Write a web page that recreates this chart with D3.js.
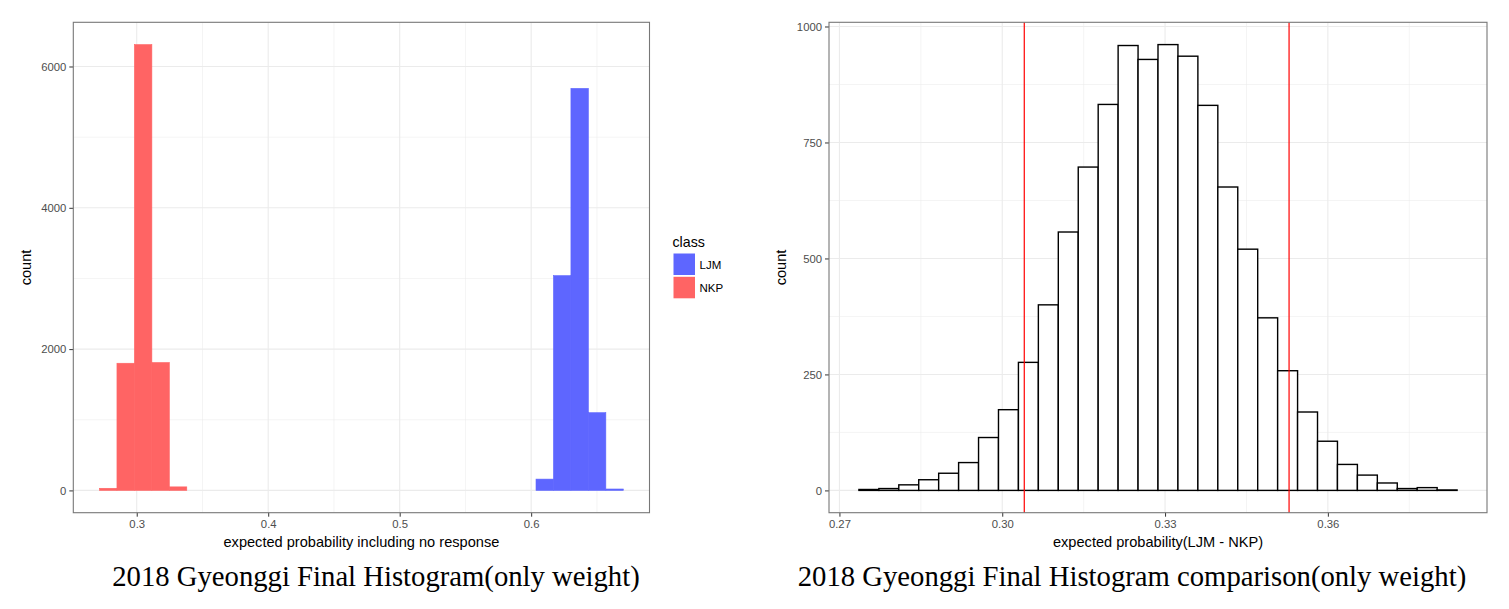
<!DOCTYPE html>
<html>
<head>
<meta charset="utf-8">
<script src="https://cdn.jsdelivr.net/npm/d3@7"></script>
<style>
  html, body { margin: 0; padding: 0; background: #fff; }
  svg { display: block; }
  .tick text { font-family: "Liberation Sans", Arial, sans-serif; }
</style>
</head>
<body>
<svg id="chart" width="1509" height="609"></svg>
<script>
// ---------------- DATA ----------------
// Left chart: histogram of expected probability including no response, by class
const classes = ["LJM", "NKP"];
const classColors = ["#5e66ff", "#ff6464"];
const leftBinWidth = 0.01328;
const ljmBinStarts = [0.60368, 0.61696, 0.63024, 0.64352, 0.65680];
const ljmCounts    = [160, 3040, 5690, 1100, 20];
const nkpBinStarts = [0.27168, 0.28496, 0.29824, 0.31152, 0.32480];
const nkpCounts    = [30, 1800, 6310, 1810, 50];
const leftXTicks = [0.3, 0.4, 0.5, 0.6];
const leftXMinor = [0.35, 0.45, 0.55, 0.65];
const leftYTicks = [0, 2000, 4000, 6000];
const leftYMinor = [1000, 3000, 5000];

// Right chart: histogram of LJM - NKP difference
const diffBinStart = 0.27359;
const diffBinWidth = 0.003674;
const diffCounts = [2, 4, 12, 23, 37, 60, 114, 174, 276, 400, 557, 697, 832, 959, 929,
                    961, 936, 830, 654, 520, 372, 258, 169, 106, 56, 33, 16, 4, 6, 1];
const diffQuantiles = [0.30406, 0.35285];
const rightXTicks = [0.27, 0.30, 0.33, 0.36];
const rightXMinor = [0.285, 0.315, 0.345, 0.375];
const rightYTicks = [0, 250, 500, 750, 1000];
const rightYMinor = [125, 375, 625, 875];

const leftTitle = "2018 Gyeonggi Final Histogram(only weight)";
const rightTitle = "2018 Gyeonggi Final Histogram comparison(only weight)";
const leftXLabel = "expected probability including no response";
const rightXLabel = "expected probability(LJM - NKP)";
const yLabel = "count";
const legendTitle = "class";

// ---------------- DRAWING ----------------
const svg = d3.select("#chart");
const SANS = "'Liberation Sans', Arial, sans-serif";
const SERIF = "'Liberation Serif', 'Times New Roman', serif";

function expand(lo, hi) { const r = hi - lo; return [lo - 0.05 * r, hi + 0.05 * r]; }

function panel(opts) {
  const g = svg.append("g");
  const { x0, x1, y0, y1, x, y } = opts;
  g.append("rect").attr("x", x0).attr("y", y0).attr("width", x1 - x0).attr("height", y1 - y0).attr("fill", "#fff");
  opts.xMinor.forEach(v => g.append("line").attr("x1", x(v)).attr("x2", x(v)).attr("y1", y0).attr("y2", y1)
    .attr("stroke", "#ebebeb").attr("stroke-width", 0.55));
  opts.yMinor.forEach(v => g.append("line").attr("y1", y(v)).attr("y2", y(v)).attr("x1", x0).attr("x2", x1)
    .attr("stroke", "#ebebeb").attr("stroke-width", 0.55));
  opts.xTicks.forEach(v => g.append("line").attr("x1", x(v)).attr("x2", x(v)).attr("y1", y0).attr("y2", y1)
    .attr("stroke", "#ebebeb").attr("stroke-width", 1.1));
  opts.yTicks.forEach(v => g.append("line").attr("y1", y(v)).attr("y2", y(v)).attr("x1", x0).attr("x2", x1)
    .attr("stroke", "#ebebeb").attr("stroke-width", 1.1));
  return g;
}

function axes(opts) {
  const { x0, x1, y0, y1, x, y } = opts;
  const xa = svg.append("g").attr("transform", `translate(0,${y1})`)
    .call(d3.axisBottom(x).tickValues(opts.xTicks).tickFormat(opts.xFormat).tickSize(4).tickPadding(3));
  const ya = svg.append("g").attr("transform", `translate(${x0},0)`)
    .call(d3.axisLeft(y).tickValues(opts.yTicks).tickFormat(d3.format("d")).tickSize(4).tickPadding(3));
  [xa, ya].forEach(a => {
    a.select(".domain").remove();
    a.selectAll(".tick line").attr("stroke", "#333").attr("stroke-width", 1);
    a.selectAll(".tick text").attr("fill", "#4d4d4d").attr("font-size", 11.3).attr("font-family", SANS);
  });
  svg.append("rect").attr("x", x0).attr("y", y0).attr("width", x1 - x0).attr("height", y1 - y0)
    .attr("fill", "none").attr("stroke", "#777").attr("stroke-width", 1.1);
  svg.append("text").attr("x", (x0 + x1) / 2).attr("y", y1 + 34).attr("text-anchor", "middle")
    .attr("font-family", SANS).attr("font-size", 14.6).attr("fill", "#000").text(opts.xLabel);
  svg.append("text").attr("transform", `translate(${opts.yLabelX},${(y0 + y1) / 2}) rotate(-90)`)
    .attr("text-anchor", "middle").attr("font-family", SANS).attr("font-size", 14.6).attr("fill", "#000").text(yLabel);
  svg.append("text").attr("x", opts.titleX).attr("y", 586).attr("text-anchor", "middle")
    .attr("font-family", SERIF).attr("font-size", 28.7).attr("fill", "#000").text(opts.title);
}

// ---- Left chart ----
(function () {
  const x0 = 73.3, x1 = 649.5, y0 = 22.3, y1 = 512.7;
  const allStarts = nkpBinStarts.concat(ljmBinStarts);
  const xDom = expand(d3.min(allStarts), d3.max(allStarts) + leftBinWidth);
  const yDom = expand(0, d3.max(nkpCounts.concat(ljmCounts)));
  const x = d3.scaleLinear().domain(xDom).range([x0, x1]);
  const y = d3.scaleLinear().domain(yDom).range([y1, y0]);
  const opts = { x0, x1, y0, y1, x, y, xTicks: leftXTicks, xMinor: leftXMinor, yTicks: leftYTicks, yMinor: leftYMinor,
    xFormat: d3.format(".1f"), xLabel: leftXLabel, yLabelX: 31, title: leftTitle, titleX: 376 };
  const g = panel(opts);
  const series = [
    { name: "LJM", starts: ljmBinStarts, counts: ljmCounts },
    { name: "NKP", starts: nkpBinStarts, counts: nkpCounts }
  ];
  series.forEach(s => {
    const color = classColors[classes.indexOf(s.name)];
    g.selectAll(null).data(s.starts.map((st, i) => ({ st, c: s.counts[i] }))).enter().append("rect")
      .attr("x", d => x(d.st)).attr("width", d => x(d.st + leftBinWidth) - x(d.st))
      .attr("y", d => y(d.c)).attr("height", d => y(0) - y(d.c))
      .attr("fill", color).attr("stroke", color).attr("stroke-width", 0.6);
  });
  axes(opts);
  const lg = svg.append("g");
  lg.append("text").attr("x", 672.5).attr("y", 247).attr("font-family", SANS).attr("font-size", 14.2).text(legendTitle);
  classes.forEach((c, i) => {
    lg.append("rect").attr("x", 673.5).attr("y", 253.5 + i * 23.3).attr("width", 21.5).attr("height", 21.5)
      .attr("fill", classColors[i]);
    lg.append("text").attr("x", 699.5).attr("y", 268.5 + i * 23.3).attr("font-family", SANS).attr("font-size", 11.5)
      .attr("fill", "#000").text(c);
  });
})();

// ---- Right chart ----
(function () {
  const x0 = 829, x1 = 1487, y0 = 22.3, y1 = 512.7;
  const edges = d3.range(diffCounts.length + 1).map(i => diffBinStart + i * diffBinWidth);
  const xDom = expand(edges[0], edges[edges.length - 1]);
  const yDom = expand(0, d3.max(diffCounts));
  const x = d3.scaleLinear().domain(xDom).range([x0, x1]);
  const y = d3.scaleLinear().domain(yDom).range([y1, y0]);
  const opts = { x0, x1, y0, y1, x, y, xTicks: rightXTicks, xMinor: rightXMinor, yTicks: rightYTicks, yMinor: rightYMinor,
    xFormat: d3.format(".2f"), xLabel: rightXLabel, yLabelX: 786, title: rightTitle, titleX: 1132 };
  const g = panel(opts);
  g.selectAll(null).data(diffCounts.map((c, i) => ({ a: edges[i], b: edges[i + 1], c }))).enter().append("rect")
    .attr("x", d => x(d.a)).attr("width", d => x(d.b) - x(d.a))
    .attr("y", d => y(d.c)).attr("height", d => y(0) - y(d.c))
    .attr("fill", "#fff").attr("stroke", "#000").attr("stroke-width", 1.4);
  diffQuantiles.forEach(q => g.append("line").attr("x1", x(q)).attr("x2", x(q)).attr("y1", y0).attr("y2", y1)
    .attr("stroke", "#ff0000").attr("stroke-width", 1.2));
  axes(opts);
})();
</script>
</body>
</html>
